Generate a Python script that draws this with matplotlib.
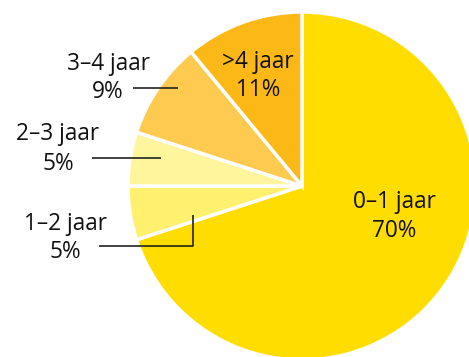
import matplotlib
matplotlib.use("Agg")
from matplotlib import pyplot as plt

# Age groups and their shares, clockwise from the top
categories = ["0–1 jaar", "1–2 jaar", "2–3 jaar", "3–4 jaar", ">4 jaar"]
shares = [70, 5, 5, 9, 11]
colors = ["#FFDD00", "#FFF16E", "#FFF59C", "#FFCA50", "#FBB817"]

W, H = 469, 357
CENTER = (302, 186)
RADIUS = 174

# label centre x and baselines of both lines, pixels from top-left
LABEL_POS = [(394, 208, 237), (65, 230, 258), (58, 140, 170), (108, 70, 98), (258, 68, 96)]
# leader lines in pixels
LEADERS = {
	1: [(99, 246), (193, 246), (193, 215)],
	2: [(92, 158), (161, 158)],
	3: [(133, 88), (178, 88)],
}

def py(y):
	return H - y

fig = plt.figure(figsize=(W / 100, H / 100), dpi=100)
ax = fig.add_axes([0, 0, 1, 1])
ax.set_xlim(0, W)
ax.set_ylim(0, H)
ax.set_aspect("equal")
ax.axis("off")

ax.pie(shares, colors=colors, startangle=90, counterclock=False,
	center=(CENTER[0], py(CENTER[1])), radius=RADIUS,
	wedgeprops=dict(edgecolor="white", linewidth=2.5))
ax.set_xlim(0, W)
ax.set_ylim(0, H)

font = dict(fontsize=16.3, family="Open Sans", color="#111111", ha="center", va="baseline")
for i, (cat, val) in enumerate(zip(categories, shares)):
	x, y1, y2 = LABEL_POS[i]
	ax.text(x, py(y1), cat, **font)
	ax.text(x, py(y2), str(val) + "%", **font)

for pts in LEADERS.values():
	xs = [p[0] for p in pts]
	ys = [py(p[1]) for p in pts]
	ax.plot(xs, ys, color="#222222", linewidth=1.2, solid_capstyle="butt")

fig.savefig("out.png", dpi=100)
